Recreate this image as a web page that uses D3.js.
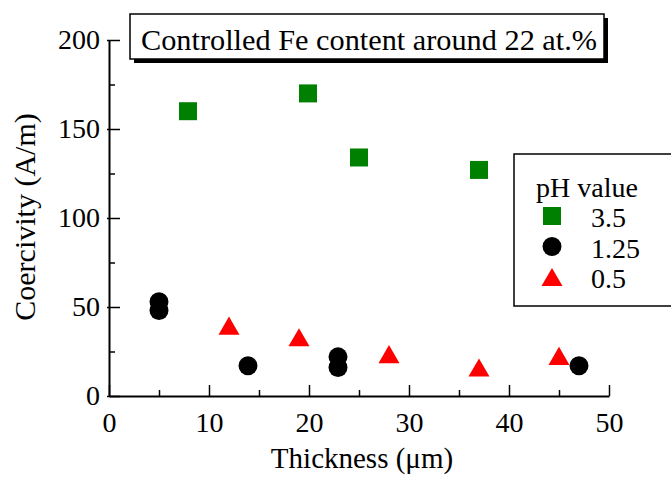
<!DOCTYPE html>
<html>
<head>
<meta charset="utf-8">
<script src="https://cdn.jsdelivr.net/npm/d3@7"></script>
<style>
  body { margin: 0; background: #fff; }
</style>
</head>
<body>
<div id="chart"></div>
<script>
// Data
var seriesNames = ["3.5", "1.25", "0.5"];
var greenX = [7.9, 19.9, 25.0, 37.0];
var greenY = [160, 170, 134, 127];
var blackX = [5.0, 5.0, 13.9, 22.9, 22.9, 47.0];
var blackY = [53, 48, 17, 22, 16, 17];
var redX = [12.0, 19.0, 28.0, 37.0, 45.0];
var redY = [39.5, 33, 23.5, 16, 22.5];
var xTicks = [0, 10, 20, 30, 40, 50];
var xMinor = [5, 15, 25, 35, 45];
var yTicks = [0, 50, 100, 150, 200];
var yMinor = [25, 75, 125, 175];

var serif = "Liberation Serif";

var svgWidth = 671;
var svgHeight = 478;

var margin = { top: 40, right: 62, bottom: 82, left: 109 };
var width = svgWidth - margin.left - margin.right;
var height = svgHeight - margin.top - margin.bottom;

var svg = d3.select("#chart")
  .append("svg")
  .attr("width", svgWidth)
  .attr("height", svgHeight);

var chartGroup = svg.append("g")
  .attr("transform", `translate(${margin.left}, ${margin.top})`);

var xScale = d3.scaleLinear().domain([0, 50]).range([0, width]);
var yScale = d3.scaleLinear().domain([0, 200]).range([height, 0]);

// triangle centred on its bounding box
var triangleBox = {
  draw: function(context, size) {
    var w = Math.sqrt(size * 4 / Math.sqrt(3));
    var h = w * Math.sqrt(3) / 2;
    context.moveTo(0, -h / 2);
    context.lineTo(w / 2, h / 2);
    context.lineTo(-w / 2, h / 2);
    context.closePath();
  }
};

// minor ticks
chartGroup.append("g")
  .attr("transform", `translate(0, ${height})`)
  .call(d3.axisBottom(xScale).tickValues(xMinor).tickSize(-6).tickFormat(""))
  .call(g => g.select(".domain").remove());

chartGroup.append("g")
  .call(d3.axisLeft(yScale).tickValues(yMinor).tickSize(-6).tickFormat(""))
  .call(g => g.select(".domain").remove());

// major axes, ticks point inward
var xAxis = chartGroup.append("g")
  .attr("transform", `translate(0, ${height})`)
  .call(d3.axisBottom(xScale).tickValues(xTicks).tickSizeInner(-11).tickSizeOuter(0).tickPadding(16));

var yAxis = chartGroup.append("g")
  .call(d3.axisLeft(yScale).tickValues(yTicks).tickSizeInner(-11).tickSizeOuter(0).tickPadding(9));

[xAxis, yAxis].forEach(function(g) {
  g.select(".domain").attr("stroke-width", 2);
});
chartGroup.selectAll(".tick line").attr("stroke-width", 1.5);
yAxis.selectAll(".tick line").attr("x1", -2);

// points
function drawSeries(xs, ys, type, size, color) {
  chartGroup.append("g").selectAll("path")
    .data(xs.map((x, i) => [x, ys[i]]))
    .enter()
    .append("path")
    .attr("d", d3.symbol().type(type).size(size))
    .attr("transform", d => `translate(${xScale(d[0])}, ${yScale(d[1])})`)
    .attr("fill", color);
}
drawSeries(greenX, greenY, d3.symbolSquare, 324, "#008000");
drawSeries(blackX, blackY, d3.symbolCircle, 283, "#000");
drawSeries(redX, redY, triangleBox, 191, "#ff0000");

// axis labels
svg.append("text")
  .attr("transform", "rotate(-90)")
  .attr("x", -217)
  .attr("y", 35)
  .attr("text-anchor", "middle")
  .attr("font-size", 30)
  .text("Coercivity (A/m)");

svg.append("text")
  .attr("x", 362)
  .attr("y", 468)
  .attr("text-anchor", "middle")
  .attr("font-size", 29)
  .text("Thickness (\u03bcm)");

// title box with drop shadow
svg.append("rect")
  .attr("x", 134).attr("y", 18)
  .attr("width", 474).attr("height", 45)
  .attr("fill", "#000");
svg.append("rect")
  .attr("x", 130).attr("y", 14)
  .attr("width", 474).attr("height", 45)
  .attr("fill", "#fff")
  .attr("stroke", "#000")
  .attr("stroke-width", 1.5);
svg.append("text")
  .attr("x", 141)
  .attr("y", 50)
  .attr("font-size", 30.3)
  .text("Controlled Fe content around 22 at.%");

// legend
var legend = svg.append("g").attr("transform", "translate(514, 154)");
legend.append("rect")
  .attr("x", 0).attr("y", 0)
  .attr("width", 170).attr("height", 152)
  .attr("fill", "#fff")
  .attr("stroke", "#000")
  .attr("stroke-width", 1.5);
legend.append("text")
  .attr("x", 22)
  .attr("y", 43)
  .attr("font-size", 28)
  .text("pH value");

var legendTypes = [d3.symbolSquare, d3.symbolCircle, triangleBox];
var legendSizes = [324, 283, 191];
var legendColors = ["#008000", "#000", "#ff0000"];

var rows = legend.selectAll(".row")
  .data(seriesNames)
  .enter()
  .append("g")
  .attr("class", "row")
  .attr("transform", (d, i) => `translate(0, ${62 + i * 30.5})`);
rows.append("path")
  .attr("d", (d, i) => d3.symbol().type(legendTypes[i]).size(legendSizes[i])())
  .attr("transform", "translate(38, 0)")
  .attr("fill", (d, i) => legendColors[i]);
rows.append("text")
  .attr("x", 77)
  .attr("y", 11)
  .attr("font-size", 28)
  .text(d => d);

// serif font on every text, tick labels included
svg.selectAll("text")
  .attr("font-family", serif)
  .style("font-family", serif)
  .attr("fill", "#000");
xAxis.selectAll("text").attr("font-size", 28);
yAxis.selectAll("text").attr("font-size", 28);
</script>
</body>
</html>
